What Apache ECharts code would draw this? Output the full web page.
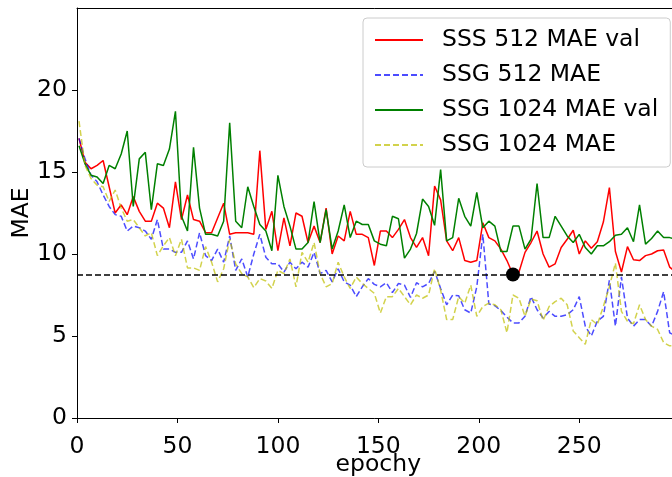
<!DOCTYPE html>
<html>
<head>
<meta charset="utf-8">
<script src="https://cdn.jsdelivr.net/npm/echarts@6/dist/echarts.min.js"></script>
<style>
  html, body { margin: 0; padding: 0; background: #fff; }
  #chart { width: 672px; height: 477px; }
</style>
</head>
<body>
<div id="chart"></div>
<script>
// ---- data ----
const seriesNames = ['SSS 512 MAE val', 'SSG 512 MAE', 'SSG 1024 MAE val', 'SSG 1024 MAE'];
const firstEpoch = 1, epochStep = 3, pointCount = 100;

const sss512Val = [17.05,15.6,15.2,15.4,15.7,14.1,12.5,13.0,12.4,13.5,
  12.6,12.0,12.0,13.1,12.8,11.6,14.4,12.1,13.6,12.1,
  12.0,11.3,11.3,12.2,13.1,11.2,11.3,11.3,11.3,11.2,
  16.3,11.5,12.6,10.2,12.2,10.5,12.5,12.3,10.7,11.7,
  10.7,12.8,10.0,11.1,10.8,12.6,11.2,11.2,11.0,9.3,
  11.4,11.4,11.0,11.5,12.1,11.0,10.4,11.0,9.9,14.15,
  13.3,10.8,10.2,11.0,9.6,9.5,9.6,11.9,11.0,10.8,
  10.3,9.6,8.75,8.9,10.1,10.7,11.4,10.0,9.2,9.4,
  10.4,10.9,11.45,10.0,10.8,10.35,10.75,11.95,14.05,10.15,
  8.9,10.45,9.65,9.6,9.9,10.0,10.2,10.25,9.2,8.9];

const ssg512 = [17.05,15.8,14.8,14.4,13.6,12.9,12.4,12.3,11.4,11.7,
  11.6,11.4,10.9,12.1,10.3,10.3,10.1,10.1,10.8,9.7,
  11.3,9.9,9.6,10.3,9.5,11.1,9.0,9.7,8.6,10.0,
  11.2,9.8,9.4,9.4,8.9,9.5,9.1,9.5,9.2,10.1,
  8.8,9.0,8.3,9.1,8.3,8.1,7.4,8.0,8.5,8.15,
  8.0,8.25,7.65,8.2,8.1,7.35,8.25,8.0,8.2,8.95,
  7.9,6.9,7.5,7.45,6.6,6.4,8.0,11.2,6.95,6.85,
  6.55,6.15,5.8,5.8,6.2,7.4,6.6,6.1,6.5,6.2,
  6.2,6.3,6.6,7.4,5.6,5.0,5.9,6.2,8.4,5.6,
  8.6,6.1,5.6,6.0,6.0,5.6,6.5,7.7,5.2,5.0];

const ssg1024Val = [16.6,15.5,14.8,14.7,14.3,15.4,15.2,16.1,17.5,12.9,
  15.8,16.2,12.7,15.5,15.4,16.4,18.7,12.3,11.4,16.5,
  12.8,11.2,11.2,11.1,12.0,18.0,12.0,11.6,14.1,12.9,
  11.8,11.4,10.2,14.8,12.9,11.7,10.3,10.3,10.7,13.2,
  10.7,12.7,10.3,11.4,13.0,11.0,12.0,11.8,11.8,10.8,
  10.6,10.5,12.3,12.15,9.75,10.3,11.25,13.35,12.9,11.75,
  15.15,10.8,11.0,13.4,12.3,11.7,13.75,11.6,12.0,11.7,
  10.15,10.15,11.7,11.7,10.3,10.9,14.3,11.0,11.0,12.3,
  11.7,11.1,10.7,11.2,10.4,10.0,10.5,10.5,10.75,11.15,
  11.2,11.6,10.75,13.0,10.6,10.95,11.4,11.0,11.0,10.9];

const ssg1024 = [18.1,15.4,14.6,14.2,14.1,13.2,13.9,12.8,12.0,12.1,
  11.6,11.1,11.3,9.9,10.5,11.0,9.9,10.9,9.15,9.15,
  9.0,10.45,9.5,8.3,9.1,10.9,9.4,8.8,8.6,7.95,
  8.5,8.35,7.9,9.0,8.8,9.7,8.0,10.1,9.5,10.7,
  8.8,8.0,8.2,9.5,8.6,7.9,8.6,8.2,7.9,7.6,
  6.4,7.4,7.4,7.9,7.4,6.9,7.5,7.3,7.5,9.1,
  7.8,6.0,6.0,7.4,7.0,8.1,6.2,6.8,7.0,6.9,
  6.6,5.2,7.5,7.3,6.2,7.25,7.15,5.95,6.8,7.1,
  7.3,6.9,5.3,4.9,4.5,6.0,5.7,6.8,8.0,9.45,
  6.5,5.9,5.75,6.9,6.0,5.6,5.4,4.6,4.4,4.4];

const bestEpoch = 217;     // black dot
const bestValue = 8.75;    // dashed reference line
const xTicks = [0, 50, 100, 150, 200, 250];
const yTicks = [0, 5, 10, 15, 20];

// ---- build ----
const epochs = Array.from({length: pointCount}, (_, i) => firstEpoch + epochStep * i);
const pairs = vals => vals.map((v, i) => [epochs[i], v]);

const FONT = 'DejaVu Sans';
const FS = 23.5;

const chart = echarts.init(document.getElementById('chart'), null, {renderer: 'canvas'});
const option = {
  animation: false,
  backgroundColor: '#ffffff',
  textStyle: { fontFamily: FONT },
  grid: { left: 77, top: 8, width: 602.7, height: 410, containLabel: false, outerBoundsMode: 'none' },
  legend: {
    orient: 'vertical',
    left: 363, top: 18,
    padding: [10, 12, 10, 11],
    itemGap: 11,
    itemWidth: 48, itemHeight: 14,
    backgroundColor: 'rgba(255,255,255,0.8)',
    borderColor: '#cccccc', borderWidth: 1, borderRadius: 4,
    itemStyle: { opacity: 0 },
    textStyle: { fontFamily: FONT, fontSize: FS, color: '#000', lineHeight: 24, padding: [0, 0, 0, 14] },
    data: seriesNames
  },
  xAxis: [{
    type: 'value', min: 0, max: 300, interval: 50,
    name: 'epochy', nameLocation: 'middle', nameGap: 35, nameMoveOverlap: false,
    nameTextStyle: { fontFamily: FONT, fontSize: FS, color: '#000' },
    axisLine: { show: true, onZero: false, lineStyle: { color: '#000', width: 1 } },
    axisTick: { show: true, length: 5, lineStyle: { color: '#000', width: 1 }, customValues: xTicks },
    axisLabel: { fontFamily: FONT, fontSize: FS, color: '#000', margin: 17, customValues: xTicks },
    splitLine: { show: false }
  }, {
    type: 'value', min: 0, max: 300, position: 'top',
    axisLine: { show: true, onZero: false, lineStyle: { color: '#000', width: 1 } },
    axisTick: { show: false }, axisLabel: { show: false }, splitLine: { show: false }
  }],
  yAxis: {
    type: 'value', min: 0, max: 25, interval: 5,
    name: 'MAE', nameLocation: 'middle', nameGap: 43, nameMoveOverlap: false,
    nameTextStyle: { fontFamily: FONT, fontSize: FS, color: '#000' },
    axisLine: { show: true, lineStyle: { color: '#000', width: 1 } },
    axisTick: { show: true, length: 5, lineStyle: { color: '#000', width: 1 }, customValues: yTicks },
    axisLabel: { fontFamily: FONT, fontSize: FS, color: '#000', margin: 10, customValues: yTicks },
    splitLine: { show: false }
  },
  series: [
    { name: seriesNames[0], type: 'line', data: pairs(sss512Val), symbol: 'none',
      lineStyle: { color: '#ff0000', width: 1.5 }, itemStyle: { color: '#ff0000' },
      markLine: { silent: true, symbol: ['none', 'none'], animation: false,
        label: { show: false },
        lineStyle: { color: '#000', width: 1.5, type: [6, 3] },
        data: [{ yAxis: bestValue }] } },
    { name: seriesNames[1], type: 'line', data: pairs(ssg512), symbol: 'none',
      lineStyle: { color: 'rgba(0,0,255,0.7)', width: 1.5, type: [6, 3] }, itemStyle: { color: 'rgba(0,0,255,0.7)' } },
    { name: seriesNames[2], type: 'line', data: pairs(ssg1024Val), symbol: 'none',
      lineStyle: { color: '#008000', width: 1.5 }, itemStyle: { color: '#008000' } },
    { name: seriesNames[3], type: 'line', data: pairs(ssg1024), symbol: 'none',
      lineStyle: { color: 'rgba(191,191,0,0.7)', width: 1.5, type: [6, 3] }, itemStyle: { color: 'rgba(191,191,0,0.7)' } },
    { name: 'best', type: 'scatter', data: [[bestEpoch, bestValue]], symbolSize: 14,
      itemStyle: { color: '#000', opacity: 1 }, z: 5 }
  ]
};
chart.setOption(option);
</script>
</body>
</html>
